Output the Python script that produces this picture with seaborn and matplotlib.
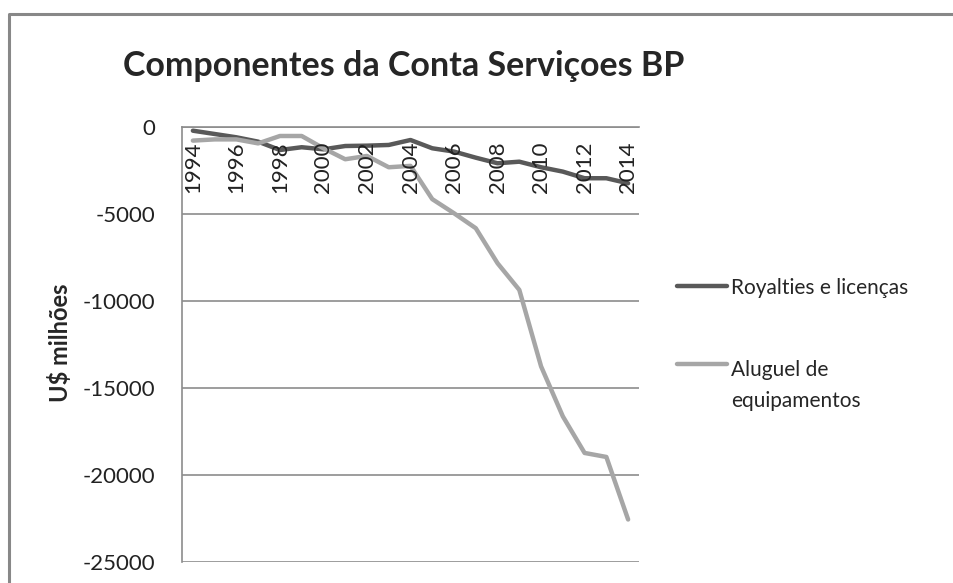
import pandas as pd
import numpy as np
import seaborn as sns
import matplotlib.pyplot as plt
from matplotlib.lines import Line2D
from matplotlib.transforms import offset_copy

anos = list(range(1994, 2015))
royalties = [-240, -430, -620, -870, -1350, -1190, -1310, -1120, -1100, -1060, -775,
             -1250, -1440, -1790, -2110, -2020, -2340, -2590, -2970, -2970, -3260]
aluguel = [-810, -740, -740, -970, -545, -545, -1250, -1880, -1690, -2340, -2260,
           -4170, -4980, -5840, -7850, -9380, -13770, -16640, -18740, -18970, -22560]
series = ["Royalties e licenças", "Aluguel de\nequipamentos"]
cores = ["#595959", "#a6a6a6"]
yticks = [0, -5000, -10000, -15000, -20000, -25000]

df = pd.DataFrame({
    "ano": anos * 2,
    "valor": royalties + aluguel,
    "serie": [series[0]] * len(anos) + [series[1]] * len(anos),
})

sns.set_style("white")
plt.rcParams["font.family"] = ["Lato", "DejaVu Sans"]

fig = plt.figure(figsize=(9.54, 5.83), dpi=100)
ax = fig.add_axes([182 / 954, 21 / 583, 457 / 954, 435.5 / 583])

sns.lineplot(data=df, x="ano", y="valor", hue="serie", palette=cores,
             linewidth=3.2, ax=ax, legend=False)

ax.set_xlim(1993.5, 2014.5)
ax.set_ylim(-25000, 0)
ax.set_yticks(yticks)
ax.set_yticklabels([str(v) for v in yticks])
ax.set_xticks([])
ax.set_xlabel("")
ax.set_ylabel("")
ax.yaxis.grid(True, color="#8c8c8c", lw=1.2)
ax.set_axisbelow(True)
ax.tick_params(axis="y", length=0, pad=19, labelsize=16, labelcolor="#222222")
for s in ["right", "bottom"]:
    ax.spines[s].set_visible(False)
for s in ["left", "top"]:
    ax.spines[s].set_color("#8c8c8c")
    ax.spines[s].set_linewidth(1.2)

# x labels sit under the zero line (Excel style)
tr = offset_copy(ax.get_xaxis_transform(), fig=fig, y=-15, units="dots")
for a in anos[::2]:
    ax.text(a, 1, str(a), transform=tr, rotation=90, ha="center", va="top",
            fontsize=16, color="#222222")

fs_leg = 15
ls_txt = 1.68
handles = [Line2D([], [], color=c, lw=3.2) for c in cores]
leg = fig.legend(handles, series, loc="upper left",
                 bbox_to_anchor=(658 / 954, 1 - 259 / 583),
                 frameon=False, fontsize=fs_leg, handlelength=2.4,
                 handletextpad=0.2, labelspacing=3.0)
for t in leg.get_texts():
    t.set_linespacing(ls_txt)
# put the second swatch next to the first text line, as Excel does
h2 = leg.legend_handles[1]
h2.set_ydata(np.asarray(h2.get_ydata()) + 15.8)

fig.text(404 / 954, 1 - 66 / 583, "Componentes da Conta Serviçoes BP",
         ha="center", va="center", fontsize=24.5, weight="bold")
fig.text(60 / 954, 1 - 343 / 583, "U\\$ milhões", rotation=90, ha="center",
         va="center", fontsize=17, weight="bold")

fig.add_artist(Line2D([9 / 954, 9 / 954, 1], [0, 1 - 14 / 583, 1 - 14 / 583],
                      transform=fig.transFigure, color="#888888", lw=2.2))

fig.savefig("out.png", dpi=100)
